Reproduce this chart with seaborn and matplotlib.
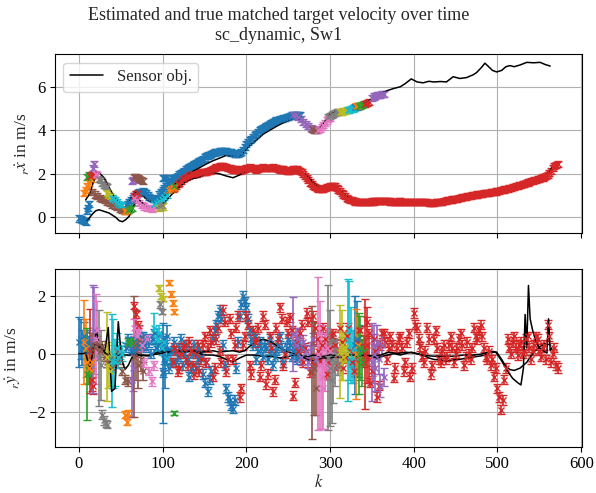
import numpy as np
import matplotlib
matplotlib.use('agg')
import matplotlib.pyplot as plt
import seaborn as sns

# ---- sensor objects (black lines) ----
sens1_k = [8, 13, 17, 21, 24, 28, 31, 35, 39, 43,
           47, 51, 55, 59, 63, 67, 71, 75, 79, 83,
           87, 92, 97, 103, 109, 117, 125, 135, 145, 152,
           160, 168, 176, 184, 192, 198, 204, 212, 220, 230,
           240, 250, 258, 265, 272, 280, 286, 292, 300, 308,
           316, 324, 332, 344, 356, 368, 376, 384, 390, 397,
           404, 411, 418, 424, 432, 439, 447, 455, 463, 471,
           475, 480, 485, 490, 494, 499, 505, 510, 515, 520,
           527, 535, 543, 551, 557, 563]
sens1_vx = [0.8, 1.1, 1.6, 1.98, 2.05, 1.9, 1.75, 1.45, 1.15, 0.9,
            0.7, 0.55, 0.42, 0.6, 0.95, 1.15, 1.2, 1.05, 0.9, 0.78,
            0.72, 0.72, 0.76, 1.0, 1.3, 1.6, 1.9, 2.1, 2.3, 2.45,
            2.6, 2.72, 2.85, 2.83, 2.8, 3.05, 3.3, 3.55, 3.82, 4.05,
            4.27, 4.45, 4.62, 4.5, 4.25, 4.05, 4.04, 4.3, 4.75, 4.85,
            4.9, 5.0, 5.12, 5.3, 5.6, 5.82, 5.92, 6.0, 6.15, 6.36,
            6.22, 6.18, 6.25, 6.22, 6.24, 6.22, 6.46, 6.38, 6.42, 6.55,
            6.65, 6.85, 7.08, 6.9, 6.75, 6.68, 6.75, 6.92, 6.97, 6.92,
            7.0, 7.12, 7.1, 7.12, 7.02, 6.95]
sens1_vy = [0.0, -0.48, 0.1, 0.85, 0.2, 0.3, 0.1, 0.9, -1.3, -1.2,
            1.1, -0.2, -0.55, -0.4, -0.15, -0.1, -0.05, -0.08, -0.05, -0.08,
            -0.05, -0.02, 0.0, 0.05, 0.03, 0.1, 0.05, 0.1, 0.05, 0.08,
            0.1, 0.05, 0.08, 0.1, 0.05, 0.1, 0.25, 0.4, 0.5, 0.4,
            0.2, 0.05, 0.0, -0.05, -0.2, -0.25, -0.2, -0.15, -0.15, -0.1,
            -0.15, -0.05, -0.1, -0.05, -0.15, -0.05, 0.0, -0.05, 0.0, 0.05,
            0.0, -0.05, -0.15, -0.2, -0.22, -0.25, -0.22, -0.2, -0.15, -0.12,
            -0.1, -0.08, -0.05, 0.05, 0.08, 0.05, -0.2, -0.45, -0.55, -0.58,
            -0.5, -0.3, 0.05, 0.25, 0.35, 0.3]

sens2_k = [0, 4, 8, 12, 16, 20, 24, 28, 32, 36,
           40, 44, 48, 52, 56, 60, 64, 68, 72, 76,
           80, 84, 88, 94, 100, 106, 112, 120, 128, 136,
           144, 152, 160, 168, 176, 184, 192, 200, 210, 220,
           230, 240, 250, 260, 268, 274, 280, 286, 292, 298,
           304, 310, 316, 322, 330, 340, 350, 360, 370, 380,
           390, 400, 410, 420, 430, 440, 450, 460, 470, 480,
           490, 498, 505, 512, 518, 524, 528, 531, 533, 535,
           537, 539, 542, 546, 550, 555, 559, 561, 563, 565]
sens2_vx = [-0.05, -0.12, -0.2, -0.05, 0.15, 0.3, 0.35, 0.3, 0.25, 0.2,
            0.1, 0.0, -0.15, -0.2, -0.1, 0.05, 0.4, 0.75, 0.8, 0.65,
            0.5, 0.45, 0.42, 0.45, 0.6, 0.85, 1.1, 1.4, 1.65, 1.78,
            1.85, 2.0, 2.05, 2.0, 1.9, 1.82, 1.95, 2.15, 2.2, 2.22,
            2.25, 2.18, 2.12, 2.15, 2.05, 1.85, 1.6, 1.4, 1.3, 1.38,
            1.42, 1.3, 1.1, 0.9, 0.75, 0.7, 0.7, 0.72, 0.73, 0.72,
            0.7, 0.7, 0.69, 0.68, 0.69, 0.75, 0.82, 0.9, 0.98, 1.05,
            1.1, 1.15, 1.2, 1.25, 1.33, 1.4, 1.45, 1.48, 1.5, 1.52,
            1.55, 1.57, 1.6, 1.65, 1.72, 1.8, 1.88, 2.0, 2.15, 2.3]
sens2_vy = [0.0, 0.0, 0.02, 0.05, 0.2, 0.3, 0.3, 0.15, 0.0, -0.05,
            -0.05, -0.08, -0.05, -0.05, -0.05, -0.05, 0.0, 0.0, -0.05, -0.05,
            -0.08, -0.05, -0.05, 0.05, 0.1, 0.05, 0.1, 0.12, 0.05, 0.1,
            0.0, -0.05, -0.05, -0.1, -0.2, -0.28, -0.15, -0.05, -0.05, -0.1,
            -0.1, -0.15, -0.1, -0.05, -0.08, -0.1, -0.05, -0.1, -0.1, -0.05,
            -0.05, -0.1, -0.08, -0.05, -0.05, -0.05, -0.08, -0.05, 0.05, 0.0,
            0.05, 0.02, -0.05, -0.08, -0.1, -0.1, -0.08, -0.05, -0.05, -0.02,
            0.05, 0.05, -0.25, -0.6, -0.85, -1.0, -1.08, -0.5, 1.35, 0.2,
            2.35, 1.2, 0.8, 0.4, 0.2, 0.1, 0.02, 1.2, 0.1, 0.2]

# ---- long estimated tracks (every 2nd step) ----
blue_k = list(range(56, 265, 2))
blue_vx = [0.55, 0.62, 0.7, 0.8, 0.9, 0.98, 1.05, 1.1, 1.15, 1.18,
           1.2, 1.15, 1.1, 1.02, 0.95, 0.9, 0.85, 0.85, 0.85, 0.9,
           1.05, 1.15, 1.25, 1.35, 1.45, 1.52, 1.6, 1.68, 1.75, 1.8,
           1.85, 1.92, 2.0, 2.05, 2.1, 2.15, 2.2, 2.25, 2.3, 2.35,
           2.4, 2.45, 2.5, 2.55, 2.6, 2.65, 2.7, 2.75, 2.8, 2.84,
           2.88, 2.92, 2.95, 2.98, 3.0, 3.02, 3.05, 3.05, 3.05, 3.05,
           3.05, 3.02, 3.0, 2.98, 2.95, 2.93, 2.92, 2.92, 2.95, 3.0,
           3.1, 3.22, 3.35, 3.45, 3.55, 3.62, 3.7, 3.78, 3.85, 3.92,
           4.0, 4.05, 4.1, 4.15, 4.2, 4.25, 4.3, 4.34, 4.38, 4.42,
           4.45, 4.48, 4.5, 4.52, 4.55, 4.58, 4.6, 4.62, 4.65, 4.68,
           4.7, 4.71, 4.72, 4.7, 4.68]
blue_vy = [0.2, 0.5, 0.4, 0.1, 0.1, 0.3, 0.5, 0.2, 0.3, 0.6,
           0.6, 0.3, 0.2, 0.5, 0.4, 0.0, 0.5, 0.7, 0.2, 0.3,
           0.6, 0.2, -0.65, -0.2, 0.3, 0.0, -0.5, -0.3, 0.1, 0.4,
           -0.3, -0.1, 0.2, 0.5, -0.4, 0.0, 0.3, -0.2, -0.8, -0.5,
           0.0, 0.3, -0.5, -0.2, 0.2, -0.1, -0.7, -1.0, -0.3, -1.3,
           -0.9, -0.6, 0.5, 0.8, 1.0, 1.3, 1.5, 1.2, 0.3, -0.4,
           -1.2, -1.5, -1.6, -1.8, -1.9, -1.6, -0.5, 0.4, 1.3, 1.7,
           2.0, 1.8, 1.6, 1.2, 0.8, 0.5, 0.3, 0.6, -0.2, 0.1,
           0.4, 0.2, -0.1, 0.3, 0.2, -0.2, 0.5, 0.1, -0.4, -0.1,
           0.1, 0.3, 0.6, 0.2, -0.3, 0.0, 0.2, 0.5, 0.3, -0.1,
           0.1, 0.3, -0.2, 0.0, 0.3]

red_k = list(range(112, 573, 2))
red_vx = [1.3, 1.37, 1.45, 1.52, 1.6, 1.67, 1.75, 1.8, 1.85, 1.9,
          1.95, 1.98, 2.0, 2.0, 2.0, 2.02, 2.05, 2.08, 2.1, 2.1,
          2.1, 2.12, 2.15, 2.18, 2.2, 2.25, 2.3, 2.33, 2.35, 2.35,
          2.35, 2.33, 2.3, 2.28, 2.25, 2.22, 2.2, 2.2, 2.2, 2.18,
          2.15, 2.18, 2.2, 2.22, 2.25, 2.28, 2.3, 2.28, 2.25, 2.22,
          2.2, 2.22, 2.25, 2.28, 2.3, 2.28, 2.25, 2.25, 2.25, 2.28,
          2.3, 2.28, 2.25, 2.22, 2.2, 2.2, 2.2, 2.18, 2.15, 2.15,
          2.15, 2.18, 2.2, 2.2, 2.2, 2.18, 2.15, 2.1, 2.0, 1.9,
          1.8, 1.7, 1.6, 1.52, 1.45, 1.4, 1.35, 1.32, 1.3, 1.3,
          1.32, 1.35, 1.38, 1.4, 1.42, 1.44, 1.45, 1.42, 1.35, 1.28,
          1.2, 1.12, 1.05, 0.98, 0.9, 0.85, 0.8, 0.78, 0.75, 0.73,
          0.72, 0.71, 0.7, 0.7, 0.7, 0.71, 0.72, 0.72, 0.72, 0.73,
          0.73, 0.74, 0.74, 0.75, 0.75, 0.74, 0.74, 0.75, 0.75, 0.74,
          0.73, 0.72, 0.72, 0.72, 0.72, 0.73, 0.73, 0.72, 0.72, 0.71,
          0.7, 0.7, 0.7, 0.71, 0.71, 0.7, 0.7, 0.71, 0.72, 0.71,
          0.7, 0.7, 0.69, 0.68, 0.68, 0.68, 0.68, 0.69, 0.7, 0.7,
          0.71, 0.72, 0.74, 0.76, 0.78, 0.79, 0.8, 0.82, 0.83, 0.85,
          0.86, 0.88, 0.9, 0.92, 0.93, 0.95, 0.97, 0.98, 1.0, 1.01,
          1.02, 1.04, 1.05, 1.07, 1.08, 1.09, 1.1, 1.12, 1.13, 1.14,
          1.15, 1.17, 1.18, 1.19, 1.2, 1.22, 1.25, 1.26, 1.28, 1.29,
          1.3, 1.33, 1.35, 1.38, 1.4, 1.43, 1.45, 1.48, 1.5, 1.53,
          1.55, 1.58, 1.6, 1.63, 1.65, 1.68, 1.7, 1.73, 1.75, 1.78,
          1.8, 1.83, 1.87, 1.9, 1.95, 2.05, 2.15, 2.25, 2.35, 2.42,
          2.45]
red_vy = [-0.3, 0.2, 0.1, -0.6, -0.5, 0.0, 0.2, 0.3, -0.2, -0.4,
          0.4, 0.1, -0.4, -0.7, 0.0, 0.3, -0.6, -0.2, 0.3, 0.6,
          -0.3, 0.2, 0.8, 0.4, -0.8, -0.5, 0.5, 0.9, 0.1, -0.3,
          1.5, 1.1, -0.6, -0.2, 1.2, 0.7, -0.2, 0.3, 0.9, 1.3,
          -1.5, -1.2, 0.3, 0.6, 1.3, 1.0, -0.4, -0.7, 0.8, 0.4,
          0.5, 0.9, -0.8, -0.4, 1.3, 1.0, -1.05, -0.7, 0.6, 0.2,
          -1.3, -0.9, 0.9, 0.5, 1.6, 1.2, -0.4, 0.0, 1.1, 0.7,
          1.25, 0.8, -1.45, -1.0, 0.4, 0.1, 0.7, 1.0, -0.3, 0.2,
          1.4, 1.1, -0.65, -0.3, 1.3, 0.9, 0.5, 0.1, -0.25, 0.3,
          0.9, 0.5, -0.7, -0.3, 0.2, 0.6, 0.7, 0.3, -0.4, 0.0,
          0.9, 0.4, -0.5, -0.1, 0.6, 0.9, 0.1, -0.3, -0.6, -0.2,
          0.4, 0.8, 0.8, 0.3, -0.3, 0.1, 1.1, 0.7, -1.0, -0.6,
          0.5, 0.1, -1.5, -1.1, 0.3, 0.7, 0.7, 0.4, -0.2, 0.2,
          0.6, 0.3, -0.83, -0.5, 0.2, 0.5, 0.6, 0.2, -0.6, -0.3,
          0.4, 0.7, -0.8, -0.5, 1.4, 1.0, 0.9, 0.5, 0.25, -0.1,
          -0.3, 0.1, 0.9, 0.5, -0.7, -0.4, 0.5, 0.8, 0.2, -0.2,
          -0.3, 0.1, 0.3, -0.2, -0.1, 0.3, 0.6, 0.2, -0.3, 0.0,
          0.2, 0.5, 0.7, 0.3, -0.4, -0.1, 0.4, 0.0, -0.2, 0.2,
          0.9, 0.6, 0.5, 0.8, 1.0, 0.6, 0.2, -0.1, -0.2, 0.1,
          -0.4, -0.2, -0.8, -0.5, -1.2, -1.5, -1.93, -1.6, -0.9, -0.5,
          0.5, 0.2, 0.0, 0.4, 0.6, 0.2, -0.05, 0.3, 0.4, 0.0,
          0.1, 0.5, 0.6, 0.2, -0.2, 0.1, 0.3, 0.6, 0.5, 0.1,
          -0.1, 0.2, 0.3, -0.2, 1.0, 0.6, -0.3, 0.0, 0.2, -0.4,
          -0.5]

# ---- short tracks: k, x-velocity, y-velocity, y-uncertainty ----
blue0_k = [0, 2, 4, 6, 8, 10, 11, 12]
blue0_vx = [-0.05, -0.08, -0.12, -0.15, -0.2, 0.3, 0.45, 0.6]
blue0_vy = [0.4, 0.5, 0.2, 0.6, 0.3, 0.4, 0.1, 0.3]
blue0_ey = [0.85, 0.7, 0.6, 0.5, 0.45, 0.4, 0.35, 0.3]

orange0_k = [6, 8, 10, 12, 14, 16]
orange0_vx = [1.1, 1.25, 1.45, 1.6, 1.75, 1.9]
orange0_vy = [0.4, 0.2, -0.3, -0.5, -0.6, -0.3]
orange0_ey = [1.45, 1.0, 0.7, 0.5, 0.35, 0.25]

green0_k = [10, 12]
green0_vx = [1.85, 1.95]
green0_vy = [-0.7, -0.75]
green0_ey = [1.6, 0.3]

red0_k = [13, 15, 17]
red0_vx = [1.9, 1.95, 2.0]
red0_vy = [0.1, -0.9, -1.1]
red0_ey = [1.45, 0.4, 0.3]

purple0_k = [17, 18]
purple0_vx = [2.25, 2.45]
purple0_vy = [0.5, 0.8]
purple0_ey = [1.85, 1.5]

pink0_k = [20, 22]
pink0_vx = [2.0, 1.95]
pink0_vy = [0.5, 0.8]
pink0_ey = [1.55, 1.0]

gray0_k = [24, 26, 28, 30, 32, 34]
gray0_vx = [1.75, 1.7, 1.6, 1.5, 1.45, 1.4]
gray0_vy = [-0.15, -0.4, -2.1, -2.3, -2.4, -2.45]
gray0_ey = [1.65, 1.2, 0.15, 0.15, 0.12, 0.12]

brown0_k = [16, 19, 22, 25, 28, 31, 34, 37, 40, 43, 46, 49, 52, 55, 58]
brown0_vx = [1.15, 1.05, 0.98, 0.9, 0.85, 0.78, 0.72, 0.65, 0.58, 0.52,
             0.46, 0.4, 0.35, 0.3, 0.35]
brown0_vy = [0.3, 0.2, 0.35, 0.1, 0.25, -0.1, -0.3, -0.2, -0.5, -0.3,
             0.1, -0.2, -0.6, -0.9, -0.95]
brown0_ey = [0.4, 0.3, 0.25, 0.2, 0.2, 0.15, 0.15, 0.15, 0.15, 0.15,
             0.15, 0.15, 0.15, 0.15, 0.15]

olive0_k = [33, 35, 37, 39]
olive0_vx = [1.1, 1.05, 0.98, 0.9]
olive0_vy = [-0.1, -0.4, -0.6, 0.0]
olive0_ey = [1.55, 0.8, 0.5, 0.3]

cyan0_k = [39, 41, 43, 45, 47, 49, 51]
cyan0_vx = [0.9, 0.85, 0.78, 0.7, 0.62, 0.58, 0.55]
cyan0_vy = [-0.25, 0.0, -0.3, 0.2, -0.1, 0.1, 0.0]
cyan0_ey = [1.6, 1.2, 0.8, 0.5, 0.4, 0.3, 0.25]

orange1_k = [55, 57, 59]
orange1_vx = [0.28, 0.3, 0.32]
orange1_vy = [-2.1, -2.35, -2.05]
orange1_ey = [0.12, 0.1, 0.1]

green1_k = [59, 61, 63]
green1_vx = [0.35, 0.4, 0.45]
green1_vy = [0.4, 0.45, 0.35]
green1_ey = [0.15, 0.1, 0.1]

pink1_k = [66, 69, 72, 75, 78, 81, 84, 87, 90]
pink1_vx = [0.9, 0.8, 0.68, 0.58, 0.5, 0.45, 0.42, 0.4, 0.42]
pink1_vy = [0.9, 0.6, 0.75, 0.3, -0.3, 0.5, -0.6, -0.95, -0.4]
pink1_ey = [0.3, 0.25, 0.2, 0.2, 0.15, 0.15, 0.15, 0.15, 0.15]

purple1_k = [63, 65]
purple1_vx = [1.67, 1.7]
purple1_vy = [-0.9, -0.5]
purple1_ey = [1.3, 0.8]

brown1_k = [66, 68, 70, 72, 74, 76]
brown1_vx = [1.85, 1.85, 1.8, 1.75, 1.7, 1.65]
brown1_vy = [-0.1, 0.3, -0.4, 0.5, -0.2, -0.6]
brown1_ey = [2.1, 1.2, 0.8, 0.5, 0.4, 0.3]

red1_k = [66, 68, 70]
red1_vx = [1.0, 1.05, 1.1]
red1_vy = [1.65, 1.35, 1.0]
red1_ey = [0.12, 0.12, 0.12]

cyan1_k = [90, 93, 96, 99, 102, 105]
cyan1_vx = [0.6, 0.65, 0.75, 0.85, 0.95, 1.05]
cyan1_vy = [0.9, 0.5, 0.7, 0.2, 0.4, -0.2]
cyan1_ey = [0.5, 0.4, 0.3, 0.25, 0.2, 0.2]

olive1_k = [96, 98, 100]
olive1_vx = [0.45, 0.48, 0.5]
olive1_vy = [2.25, 2.0, 1.9]
olive1_ey = [0.1, 0.1, 0.1]

gray1_k = [97, 99]
gray1_vx = [0.5, 0.55]
gray1_vy = [1.7, 1.45]
gray1_ey = [0.12, 0.1]

blue1_k = [101, 103, 105]
blue1_vx = [1.8, 1.82, 1.8]
blue1_vy = [-0.66, -0.3, 0.6]
blue1_ey = [1.73, 0.9, 0.4]

orange2_k = [108, 110, 112, 114]
orange2_vx = [1.25, 1.3, 1.35, 1.4]
orange2_vy = [2.45, 2.05, 1.75, 1.45]
orange2_ey = [0.1, 0.1, 0.1, 0.1]

green2_k = [114]
green2_vx = [1.45]
green2_vy = [-2.05]
green2_ey = [0.08]

purple2_k = [256, 259, 262, 265, 268, 271, 274, 277, 280, 283]
purple2_vx = [4.72, 4.7, 4.62, 4.5, 4.4, 4.3, 4.2, 4.12, 4.05, 4.02]
purple2_vy = [0.67, 0.3, 0.5, -0.1, 0.4, 0.1, -0.3, 0.2, 0.5, -0.2]
purple2_ey = [1.27, 0.6, 0.4, 0.3, 0.25, 0.2, 0.2, 0.2, 0.2, 0.2]

brown2_k = [279, 281, 283]
brown2_vx = [4.05, 4.02, 4.0]
brown2_vy = [-0.65, -0.5, -1.2]
brown2_ey = [2.3, 1.6, 0.9]

pink2_k = [286, 288, 290, 292, 294, 296, 298, 300]
pink2_vx = [4.0, 4.05, 4.15, 4.25, 4.35, 4.45, 4.5, 4.55]
pink2_vy = [0.0, -0.4, -0.8, -1.2, -0.3, 0.2, -0.5, 0.1]
pink2_ey = [2.65, 2.2, 1.8, 1.4, 1.0, 0.7, 0.4, 0.3]

gray2_k = [298, 300, 302, 304, 306, 308, 310]
gray2_vx = [4.6, 4.65, 4.7, 4.75, 4.8, 4.82, 4.85]
gray2_vy = [-0.15, -0.5, -0.9, -0.6, -0.3, 0.0, -0.4]
gray2_ey = [2.5, 2.0, 1.5, 1.1, 0.8, 0.5, 0.35]

olive2_k = [312, 314, 316, 318, 320]
olive2_vx = [4.85, 4.86, 4.88, 4.9, 4.92]
olive2_vy = [0.07, 0.3, -0.1, 0.2, 0.0]
olive2_ey = [1.6, 1.2, 0.8, 0.5, 0.3]

cyan2_k = [321, 323, 325, 327, 329]
cyan2_vx = [4.93, 4.95, 4.98, 5.0, 5.03]
cyan2_vy = [0.47, 0.8, 0.3, -0.1, 0.2]
cyan2_ey = [2.1, 1.7, 1.3, 0.9, 0.6]

blue2_k = [330, 332, 334]
blue2_vx = [5.05, 5.08, 5.1]
blue2_vy = [0.3, 0.5, 0.1]
blue2_ey = [1.7, 1.3, 0.9]

orange3_k = [331, 333]
orange3_vx = [5.1, 5.12]
orange3_vy = [0.0, 0.3]
orange3_ey = [1.55, 1.0]

green3_k = [334, 336, 338, 340]
green3_vx = [5.1, 5.13, 5.16, 5.2]
green3_vy = [0.0, 0.2, -0.3, 0.1]
green3_ey = [1.4, 1.1, 0.8, 0.5]

red2_k = [342, 344, 346]
red2_vx = [5.22, 5.25, 5.28]
red2_vy = [0.0, 0.3, -0.2]
red2_ey = [1.9, 1.3, 0.8]

purple3_k = [350, 352, 354, 356, 358, 360, 362, 364]
purple3_vx = [5.5, 5.55, 5.58, 5.6, 5.62, 5.63, 5.65, 5.68]
purple3_vy = [-0.3, 0.0, -0.5, 0.4, -0.2, -1.1, 0.3, -0.8]
purple3_ey = [1.35, 1.0, 0.8, 0.6, 0.5, 0.4, 0.35, 0.3]

# ---- style ----
sns.set_theme(style='ticks', rc={
    'axes.grid': True,
    'grid.color': '#b0b0b0',
    'grid.linewidth': 0.8,
    'axes.edgecolor': 'black',
    'axes.linewidth': 0.8,
    'xtick.color': 'black',
    'ytick.color': 'black',
})
plt.rcParams['font.family'] = ['Liberation Serif', 'DejaVu Serif']
plt.rcParams['mathtext.fontset'] = 'stix'

pal = sns.color_palette('tab10')
C = dict(blue=pal[0], orange=pal[1], green=pal[2], red=pal[3], purple=pal[4],
         brown=pal[5], pink=pal[6], gray=pal[7], olive=pal[8], cyan=pal[9])

fig, (ax1, ax2) = plt.subplots(2, 1, sharex=True, figsize=(5.96, 4.93), dpi=100)
fig.subplots_adjust(left=0.0923, right=0.976, top=0.890, bottom=0.0927, hspace=0.2)

EX = 0.14  # x-velocity uncertainty
EY = 0.16  # default y-velocity uncertainty


def draw_track(color, k, vx, vy, ey):
    kw = dict(fmt='x', color=color, ms=4, mew=1.0, elinewidth=1.2, capsize=2.6, capthick=1.2)
    ax1.errorbar(k, vx, yerr=EX, **kw)
    ax2.errorbar(k, vy, yerr=ey, **kw)


draw_track(C['blue'], blue_k, blue_vx, blue_vy, EY)
draw_track(C['red'], red_k, red_vx, red_vy, EY)

short_tracks = [
    ('blue', blue0_k, blue0_vx, blue0_vy, blue0_ey),
    ('orange', orange0_k, orange0_vx, orange0_vy, orange0_ey),
    ('green', green0_k, green0_vx, green0_vy, green0_ey),
    ('red', red0_k, red0_vx, red0_vy, red0_ey),
    ('purple', purple0_k, purple0_vx, purple0_vy, purple0_ey),
    ('brown', brown0_k, brown0_vx, brown0_vy, brown0_ey),
    ('pink', pink0_k, pink0_vx, pink0_vy, pink0_ey),
    ('gray', gray0_k, gray0_vx, gray0_vy, gray0_ey),
    ('olive', olive0_k, olive0_vx, olive0_vy, olive0_ey),
    ('cyan', cyan0_k, cyan0_vx, cyan0_vy, cyan0_ey),
    ('orange', orange1_k, orange1_vx, orange1_vy, orange1_ey),
    ('green', green1_k, green1_vx, green1_vy, green1_ey),
    ('purple', purple1_k, purple1_vx, purple1_vy, purple1_ey),
    ('brown', brown1_k, brown1_vx, brown1_vy, brown1_ey),
    ('red', red1_k, red1_vx, red1_vy, red1_ey),
    ('pink', pink1_k, pink1_vx, pink1_vy, pink1_ey),
    ('cyan', cyan1_k, cyan1_vx, cyan1_vy, cyan1_ey),
    ('olive', olive1_k, olive1_vx, olive1_vy, olive1_ey),
    ('gray', gray1_k, gray1_vx, gray1_vy, gray1_ey),
    ('blue', blue1_k, blue1_vx, blue1_vy, blue1_ey),
    ('orange', orange2_k, orange2_vx, orange2_vy, orange2_ey),
    ('green', green2_k, green2_vx, green2_vy, green2_ey),
    ('purple', purple2_k, purple2_vx, purple2_vy, purple2_ey),
    ('brown', brown2_k, brown2_vx, brown2_vy, brown2_ey),
    ('pink', pink2_k, pink2_vx, pink2_vy, pink2_ey),
    ('gray', gray2_k, gray2_vx, gray2_vy, gray2_ey),
    ('olive', olive2_k, olive2_vx, olive2_vy, olive2_ey),
    ('cyan', cyan2_k, cyan2_vx, cyan2_vy, cyan2_ey),
    ('blue', blue2_k, blue2_vx, blue2_vy, blue2_ey),
    ('orange', orange3_k, orange3_vx, orange3_vy, orange3_ey),
    ('green', green3_k, green3_vx, green3_vy, green3_ey),
    ('red', red2_k, red2_vx, red2_vy, red2_ey),
    ('purple', purple3_k, purple3_vx, purple3_vy, purple3_ey),
]
for name, k, vx, vy, ey in short_tracks:
    draw_track(C[name], k, vx, vy, ey)

# sensor objects on top
sns.lineplot(x=sens1_k, y=sens1_vx, ax=ax1, color='black', lw=1.1, label='Sensor obj.')
sns.lineplot(x=sens2_k, y=sens2_vx, ax=ax1, color='black', lw=1.1, legend=False)
sns.lineplot(x=sens1_k, y=sens1_vy, ax=ax2, color='black', lw=1.1, legend=False)
sns.lineplot(x=sens2_k, y=sens2_vy, ax=ax2, color='black', lw=1.1, legend=False)

ax1.legend(loc='upper left', fontsize=12)
ax1.set_yticks([0, 2, 4, 6])
ax2.set_yticks([-2, 0, 2])
ax2.set_xticks([0, 100, 200, 300, 400, 500, 600])
ax1.set_xlim(-28.6, 600.6)
ax1.set_ylabel(r'${}_r\dot{x}$ in m/s', fontsize=12.5)
ax2.set_ylabel(r'${}_r\dot{y}$ in m/s', fontsize=12.5)
ax2.set_xlabel(r'$k$', fontsize=12, labelpad=1)
for ax in (ax1, ax2):
    ax.tick_params(labelsize=12, length=3.5, width=0.8, pad=3)
ax1.tick_params(labelbottom=False)

fig.suptitle('Estimated and true matched target velocity over time\nsc_dynamic, Sw1',
             x=0.467, y=0.985, fontsize=13)

fig.savefig('out.png', dpi=100)
